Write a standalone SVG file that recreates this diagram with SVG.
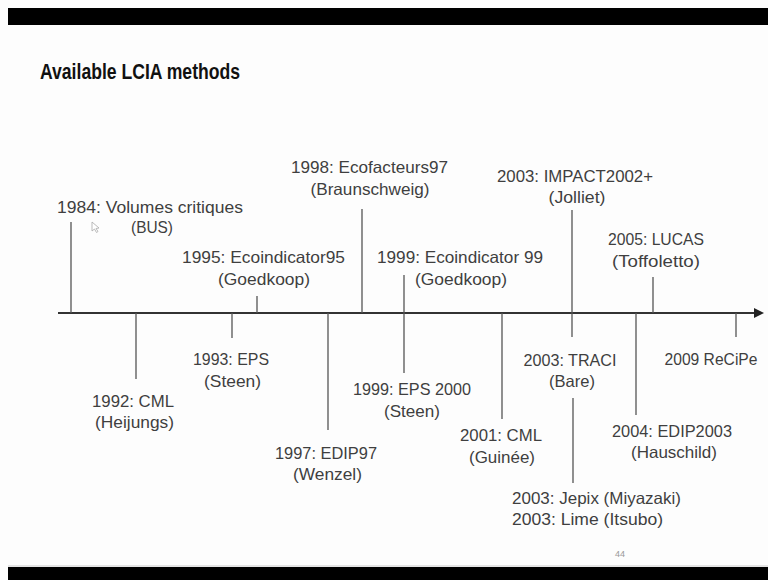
<svg xmlns="http://www.w3.org/2000/svg" width="768" height="580" viewBox="0 0 768 580">
<style>
.t{font-family:"Liberation Sans",Arial,sans-serif;font-size:16.5px;fill:#3f3f3f;text-anchor:middle}
.l{text-anchor:start}
.tick{stroke:#555;stroke-width:1.3;fill:none}
</style>
<rect width="768" height="580" fill="#fdfdfd"/>
<rect x="8" y="8" width="760" height="17" fill="#000"/>
<rect x="8" y="565.5" width="760" height="1" fill="#ccc"/>
<rect x="8" y="567" width="760" height="13" fill="#000"/>
<text x="40" y="79" font-family="Liberation Sans,Arial,sans-serif" font-weight="bold" font-size="22" fill="#111" textLength="200" lengthAdjust="spacingAndGlyphs">Available LCIA methods</text>
<g id="connectors">
<line x1="58" y1="313" x2="756" y2="313" stroke="#333" stroke-width="2.2"/>
<polygon points="754,308 764,313 754,318" fill="#222"/>
<line class="tick" x1="71" y1="222" x2="71" y2="313"/>
<line class="tick" x1="257" y1="296" x2="257" y2="313"/>
<line class="tick" x1="362" y1="209" x2="362" y2="313"/>
<line class="tick" x1="404" y1="275" x2="404" y2="313"/>
<line class="tick" x1="572" y1="210" x2="572" y2="313"/>
<line class="tick" x1="653" y1="277" x2="653" y2="313"/>
<line class="tick" x1="136" y1="313" x2="136" y2="379"/>
<line class="tick" x1="232" y1="313" x2="232" y2="338"/>
<line class="tick" x1="328" y1="313" x2="328" y2="430"/>
<line class="tick" x1="404" y1="313" x2="404" y2="373"/>
<line class="tick" x1="502" y1="313" x2="502" y2="419"/>
<line class="tick" x1="572" y1="313" x2="572" y2="337"/>
<line class="tick" x1="636" y1="313" x2="636" y2="415"/>
<line class="tick" x1="736" y1="313" x2="736" y2="337"/>
<line class="tick" x1="573" y1="398" x2="573" y2="483"/>
</g>
<g id="n1984"><text class="t" x="150" y="213" textLength="186" lengthAdjust="spacingAndGlyphs">1984: Volumes critiques</text><text class="t" x="152" y="233" textLength="42" lengthAdjust="spacingAndGlyphs">(BUS)</text></g>
<g id="n1995"><text class="t" x="263.5" y="263" textLength="163" lengthAdjust="spacingAndGlyphs">1995: Ecoindicator95</text><text class="t" x="264" y="285" textLength="92" lengthAdjust="spacingAndGlyphs">(Goedkoop)</text></g>
<g id="n1998"><text class="t" x="369.5" y="173" textLength="157" lengthAdjust="spacingAndGlyphs">1998: Ecofacteurs97</text><text class="t" x="370" y="195" textLength="119" lengthAdjust="spacingAndGlyphs">(Braunschweig)</text></g>
<g id="n1999eco"><text class="t" x="460" y="263" textLength="166" lengthAdjust="spacingAndGlyphs">1999: Ecoindicator 99</text><text class="t" x="461" y="285" textLength="92" lengthAdjust="spacingAndGlyphs">(Goedkoop)</text></g>
<g id="n2003impact"><text class="t" x="575" y="182" textLength="156" lengthAdjust="spacingAndGlyphs">2003: IMPACT2002+</text><text class="t" x="577" y="203" textLength="57" lengthAdjust="spacingAndGlyphs">(Jolliet)</text></g>
<g id="n2005"><text class="t" x="656" y="245" textLength="96" lengthAdjust="spacingAndGlyphs">2005: LUCAS</text><text class="t" x="656" y="267" textLength="88" lengthAdjust="spacingAndGlyphs">(Toffoletto)</text></g>
<g id="n1993"><text class="t" x="231" y="365" textLength="76" lengthAdjust="spacingAndGlyphs">1993: EPS</text><text class="t" x="232.5" y="387" textLength="57" lengthAdjust="spacingAndGlyphs">(Steen)</text></g>
<g id="n1992"><text class="t" x="133" y="407" textLength="82" lengthAdjust="spacingAndGlyphs">1992: CML</text><text class="t" x="134.5" y="428" textLength="79" lengthAdjust="spacingAndGlyphs">(Heijungs)</text></g>
<g id="n1997"><text class="t" x="326" y="459" textLength="102" lengthAdjust="spacingAndGlyphs">1997: EDIP97</text><text class="t" x="327.5" y="480" textLength="69" lengthAdjust="spacingAndGlyphs">(Wenzel)</text></g>
<g id="n1999eps"><text class="t" x="412" y="395" textLength="118" lengthAdjust="spacingAndGlyphs">1999: EPS 2000</text><text class="t" x="412" y="417" textLength="56" lengthAdjust="spacingAndGlyphs">(Steen)</text></g>
<g id="n2001"><text class="t" x="501" y="441" textLength="82" lengthAdjust="spacingAndGlyphs">2001: CML</text><text class="t" x="502" y="463" textLength="66" lengthAdjust="spacingAndGlyphs">(Guinée)</text></g>
<g id="n2003traci"><text class="t" x="570" y="366" textLength="93" lengthAdjust="spacingAndGlyphs">2003: TRACI</text><text class="t" x="572" y="387" textLength="46" lengthAdjust="spacingAndGlyphs">(Bare)</text></g>
<g id="n2004"><text class="t" x="672" y="437" textLength="120" lengthAdjust="spacingAndGlyphs">2004: EDIP2003</text><text class="t" x="674" y="458" textLength="86" lengthAdjust="spacingAndGlyphs">(Hauschild)</text></g>
<g id="n2009"><text class="t" x="711" y="365" textLength="93" lengthAdjust="spacingAndGlyphs">2009 ReCiPe</text></g>
<g id="n2003jepix"><text class="t l" x="512" y="504" textLength="169" lengthAdjust="spacingAndGlyphs">2003: Jepix (Miyazaki)</text><text class="t l" x="512" y="525" textLength="151" lengthAdjust="spacingAndGlyphs">2003: Lime (Itsubo)</text></g>
<polygon points="92,222 92,231 94.5,229 96.5,232.5 98,231.5 96,228.5 99,228" fill="#fff" stroke="#aaa" stroke-width="0.8"/>
<text x="620" y="557" font-family="Liberation Sans,Arial,sans-serif" font-size="9" fill="#999" text-anchor="middle">44</text>
</svg>
